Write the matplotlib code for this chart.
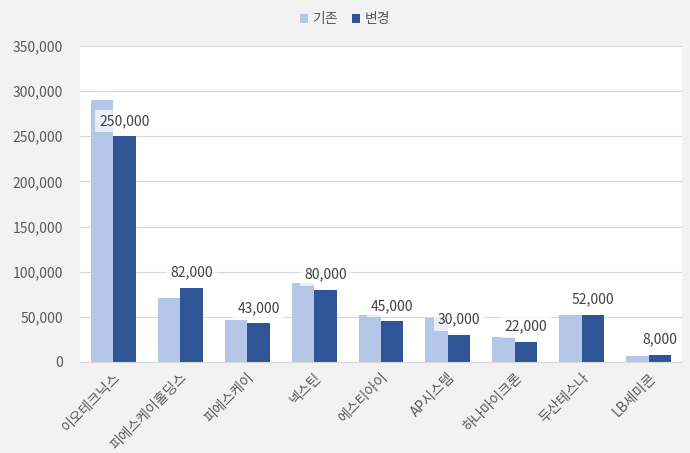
import numpy as np
import matplotlib.pyplot as plt
from matplotlib.ticker import FuncFormatter

plt.rcParams['font.family'] = ['Noto Sans CJK KR', 'DejaVu Sans']

companies = ['이오테크닉스', '피에스케이홀딩스', '피에스케이', '넥스틴', '에스티아이',
             'AP시스템', '하나마이크론', '두산테스나', 'LB세미콘']
base = [290000, 71000, 47000, 87000, 52000, 49000, 28000, 52000, 7000]
changed = [250000, 82000, 43000, 80000, 45000, 30000, 22000, 52000, 8000]

fig = plt.figure(figsize=(6.9, 4.53), dpi=100, facecolor='#f2f2f2')
ax = fig.add_axes([0.1159, 0.2009, 0.8725, 0.6976])
ax.set_facecolor('white')

x = np.arange(len(companies))
w = 0.336
ax.bar(x - w/2, base, w, color='#b4c7e7', label='기존', zorder=2)
ax.bar(x + w/2, changed, w, color='#2f5597', label='변경', zorder=2)

for xi, v in zip(x, changed):
    ax.annotate(f'{v:,}', (xi + w/2, v), xytext=(0, 6), textcoords='offset points',
                ha='center', va='bottom', fontsize=10, color='#404040', zorder=4,
                bbox=dict(boxstyle='square,pad=0.3', fc='white', ec='none', alpha=0.7))

ax.set_xlim(-0.5, len(companies) - 0.5)
ax.set_ylim(0, 350000)
ax.set_yticks(range(0, 350001, 50000))
ax.yaxis.set_major_formatter(FuncFormatter(lambda v, p: f'{int(v):,}'))
ax.grid(axis='y', color='#d9d9d9', linewidth=0.8, zorder=0)
ax.set_axisbelow(True)
for s in ['top', 'right', 'left']:
    ax.spines[s].set_visible(False)
ax.spines['bottom'].set_color('#d9d9d9')
ax.tick_params(axis='both', length=0, colors='#595959', labelsize=10)
ax.tick_params(axis='y', pad=12)
ax.tick_params(axis='x', pad=6)
ax.set_xticks(x)
ax.set_xticklabels(companies, rotation=45, ha='right', rotation_mode='anchor')

leg = fig.legend(*ax.get_legend_handles_labels(), loc='upper center',
                 bbox_to_anchor=(0.5, 1.0), ncol=2, frameon=False,
                 fontsize=10, handlelength=0.6, handleheight=0.6, handletextpad=0.3,
                 columnspacing=1.0)
for t in leg.get_texts():
    t.set_color('#595959')

fig.savefig('out.png', facecolor=fig.get_facecolor())
